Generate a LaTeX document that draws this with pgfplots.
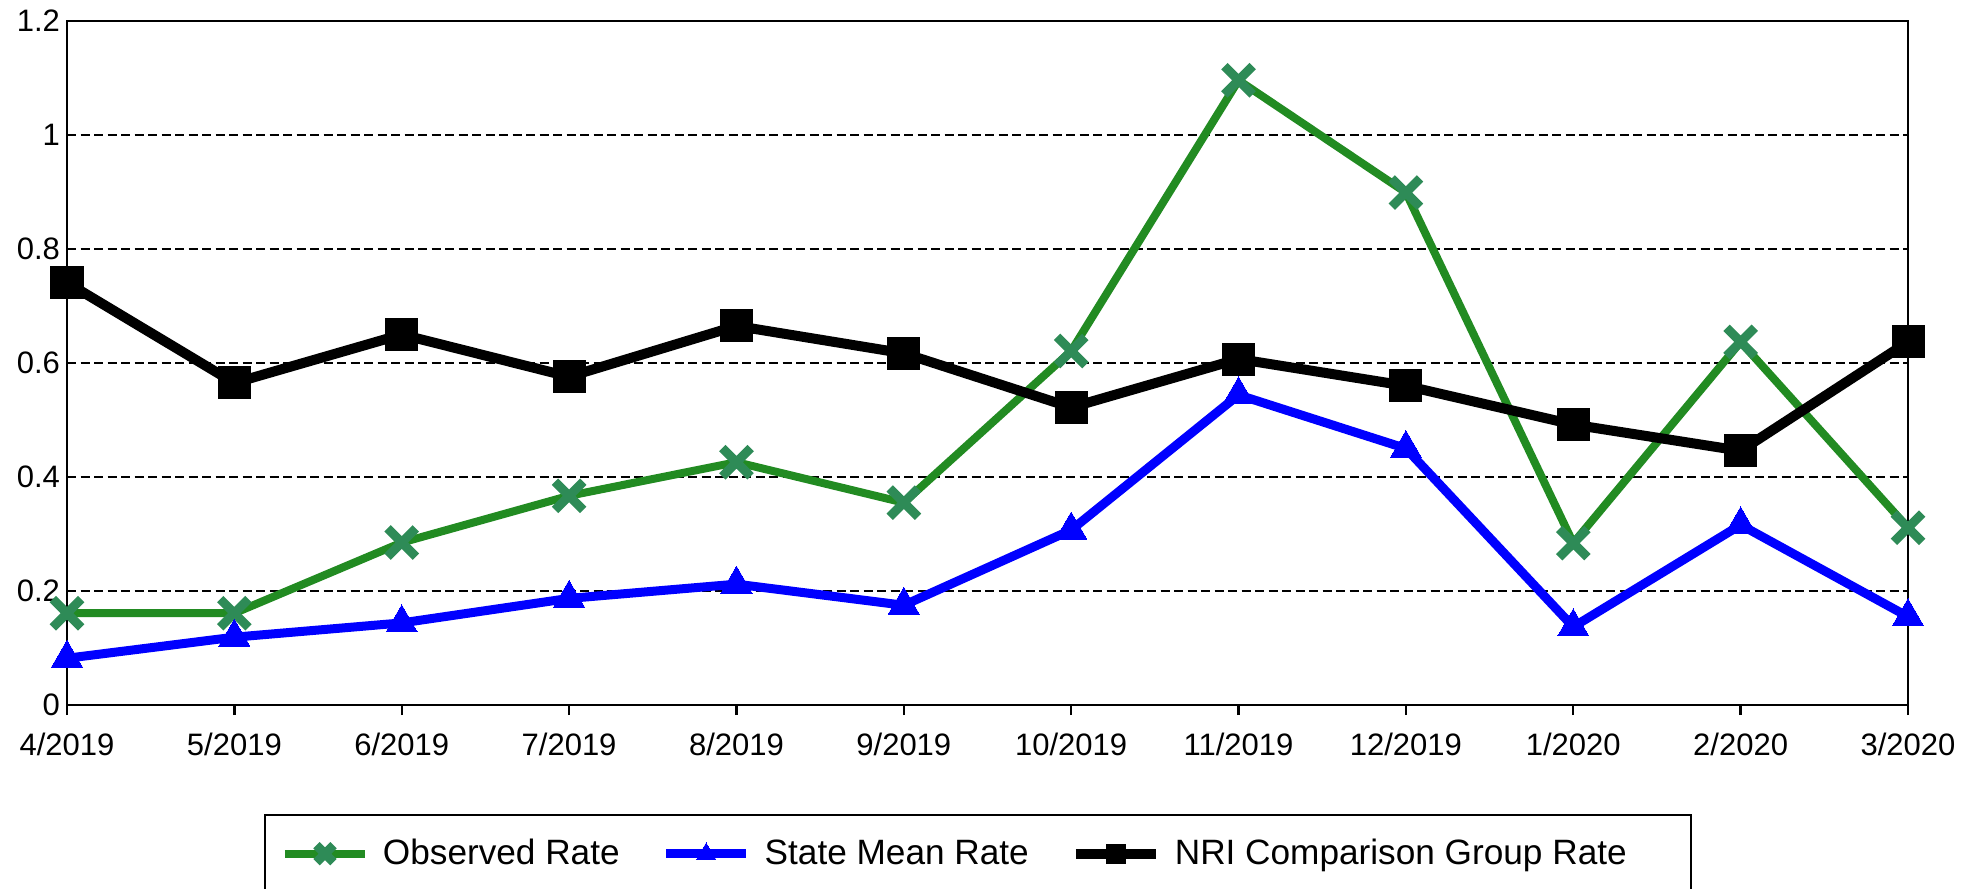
\documentclass[border=0pt]{standalone}
\usepackage{fontspec}
\setmainfont{Liberation Sans}
\usepackage{pgfplots}
\pgfplotsset{compat=1.18}
\definecolor{obsline}{RGB}{34,139,34}
\definecolor{obsmark}{RGB}{46,139,87}
\definecolor{stateblue}{RGB}{0,0,255}
\begin{document}
\begin{tikzpicture}
\begin{axis}[
  scale only axis, width=920.5pt, height=342pt,
  xmin=0, xmax=11, ymin=0, ymax=1.2,
  xtick={0,1,2,3,4,5,6,7,8,9,10,11},
  xticklabels={4/2019,5/2019,6/2019,7/2019,8/2019,9/2019,10/2019,11/2019,12/2019,1/2020,2/2020,3/2020},
  ytick={0,0.2,0.4,0.6,0.8,1,1.2},
  yticklabels={0,0.2,0.4,0.6,0.8,1,1.2},
  ymajorgrids,
  grid style={black, line width=1.2pt, dash pattern=on 4.5pt off 2.25pt},
  axis line style={line width=1.2pt},
  xtick pos=bottom, ytick pos=left, tick align=outside,
  major tick length=5pt,
  xtick style={black, line width=1.2pt},
  ytick style={draw=none},
  ticklabel style={font=\fontsize{15.5}{18}\selectfont},
  xticklabel style={yshift=-5.5pt},
  yticklabel style={xshift=5pt},
  /pgf/number format/assume math mode=true,
  legend columns=3,
  legend image code/.code={\draw[#1,mark repeat=2,mark phase=2,/tikz/every mark/.append style={scale=0.6}] plot coordinates {(0pt,0pt) (20pt,0pt) (40pt,0pt)};},
  legend style={at={(axis description cs:0.107,-0.16)}, anchor=north west,
    draw=black, line width=1pt, font=\fontsize{17.6}{20}\selectfont,
    inner xsep=8pt, inner ysep=10pt,
    /tikz/every odd column/.append style={column sep=5pt},
    /tikz/every even column/.append style={column sep=19pt}},
]
\addplot[obsline, line width=4pt, mark=x, mark size=10pt,
  mark options={obsmark, line width=4.5pt, solid}] coordinates {
  (0,0.161) (1,0.161) (2,0.285) (3,0.367) (4,0.426) (5,0.355)
  (6,0.621) (7,1.096) (8,0.899) (9,0.284) (10,0.637) (11,0.311)};
\addlegendentry{Observed Rate}
\addplot[stateblue, line width=4.5pt, mark=triangle*, mark size=9pt,
  mark options={stateblue, line width=0pt, solid}] coordinates {
  (0,0.082) (1,0.119) (2,0.144) (3,0.187) (4,0.212) (5,0.175)
  (6,0.307) (7,0.544) (8,0.450) (9,0.137) (10,0.316) (11,0.155)};
\addlegendentry{State Mean Rate}
\addplot[black, line width=5pt, mark=square*, mark size=8pt,
  mark options={black, line width=0pt, solid}] coordinates {
  (0,0.741) (1,0.565) (2,0.650) (3,0.576) (4,0.665) (5,0.617)
  (6,0.522) (7,0.607) (8,0.560) (9,0.492) (10,0.446) (11,0.637)};
\addlegendentry{NRI Comparison Group Rate\rule{22pt}{0pt}}
\draw[line width=1.2pt] (rel axis cs:0,0) rectangle (rel axis cs:1,1);
\end{axis}
\pgfresetboundingbox
\useasboundingbox (current axis.south west) ++(-33.5pt,-92pt) rectangle ++(983.5pt,444.5pt);
\end{tikzpicture}
\end{document}
